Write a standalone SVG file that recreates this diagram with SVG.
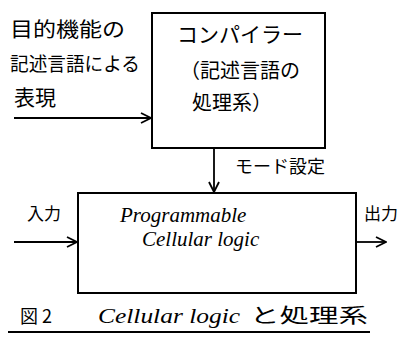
<svg xmlns="http://www.w3.org/2000/svg" width="398" height="341" viewBox="0 0 398 341">
<style>
.box{fill:none;stroke:#000;stroke-width:2}
.ln{fill:none;stroke:#000;stroke-width:1.8}
.jp{font-family:"Noto Sans CJK JP","Noto Sans",sans-serif;fill:#000}
.en{font-family:"Liberation Serif",serif;font-style:italic;fill:#000}
</style>
<defs>
<marker id="ar" viewBox="0 0 12 12" refX="11" refY="6" markerWidth="12" markerHeight="12" markerUnits="userSpaceOnUse" orient="auto">
<polyline points="1,1 11,6 1,11" fill="none" stroke="#000" stroke-width="1.8"/>
</marker>
</defs>
<rect width="398" height="341" fill="#fff"/>
<g id="source">
<text class="jp" x="10" y="37" font-size="20" textLength="115" lengthAdjust="spacingAndGlyphs">目的機能の</text>
<text class="jp" x="10" y="71" font-size="19" textLength="130" lengthAdjust="spacingAndGlyphs">記述言語による</text>
<text class="jp" x="14" y="105" font-size="21">表現</text>
</g>
<g id="compiler">
<rect class="box" x="152" y="13" width="173" height="135"/>
<text class="jp" x="240" y="42" font-size="21" text-anchor="middle">コンパイラー</text>
<text class="jp" x="240" y="78" font-size="20" text-anchor="middle">（記述言語の</text>
<text class="jp" x="232" y="110" font-size="20" text-anchor="middle">処理系）</text>
</g>
<g id="mode">
<text class="jp" x="235" y="173" font-size="18">モード設定</text>
</g>
<g id="pcl">
<rect class="box" x="78" y="193" width="278" height="100"/>
<text class="en" x="120" y="222" font-size="21">Programmable</text>
<text class="en" x="142" y="246" font-size="21">Cellular logic</text>
</g>
<g id="in">
<text class="jp" x="27" y="220" font-size="17">入力</text>
</g>
<g id="out">
<text class="jp" x="364" y="220" font-size="17">出力</text>
</g>
<g id="connectors">
<line class="ln" x1="14" y1="118" x2="151" y2="118" marker-end="url(#ar)"/>
<line class="ln" x1="214" y1="148" x2="214" y2="192" marker-end="url(#ar)"/>
<line class="ln" x1="14" y1="242" x2="77" y2="242" marker-end="url(#ar)"/>
<line class="ln" x1="356" y1="242" x2="386" y2="242" marker-end="url(#ar)"/>
</g>
<g id="caption">
<text class="jp" x="20" y="323" font-size="18">図 2</text>
<text class="en" x="98" y="323" font-size="20" textLength="142" lengthAdjust="spacingAndGlyphs">Cellular logic</text>
<text class="jp" x="250" y="323" font-size="20" textLength="118" lengthAdjust="spacingAndGlyphs">と処理系</text>
<line class="ln" x1="8" y1="332" x2="370" y2="332"/>
</g>
</svg>
